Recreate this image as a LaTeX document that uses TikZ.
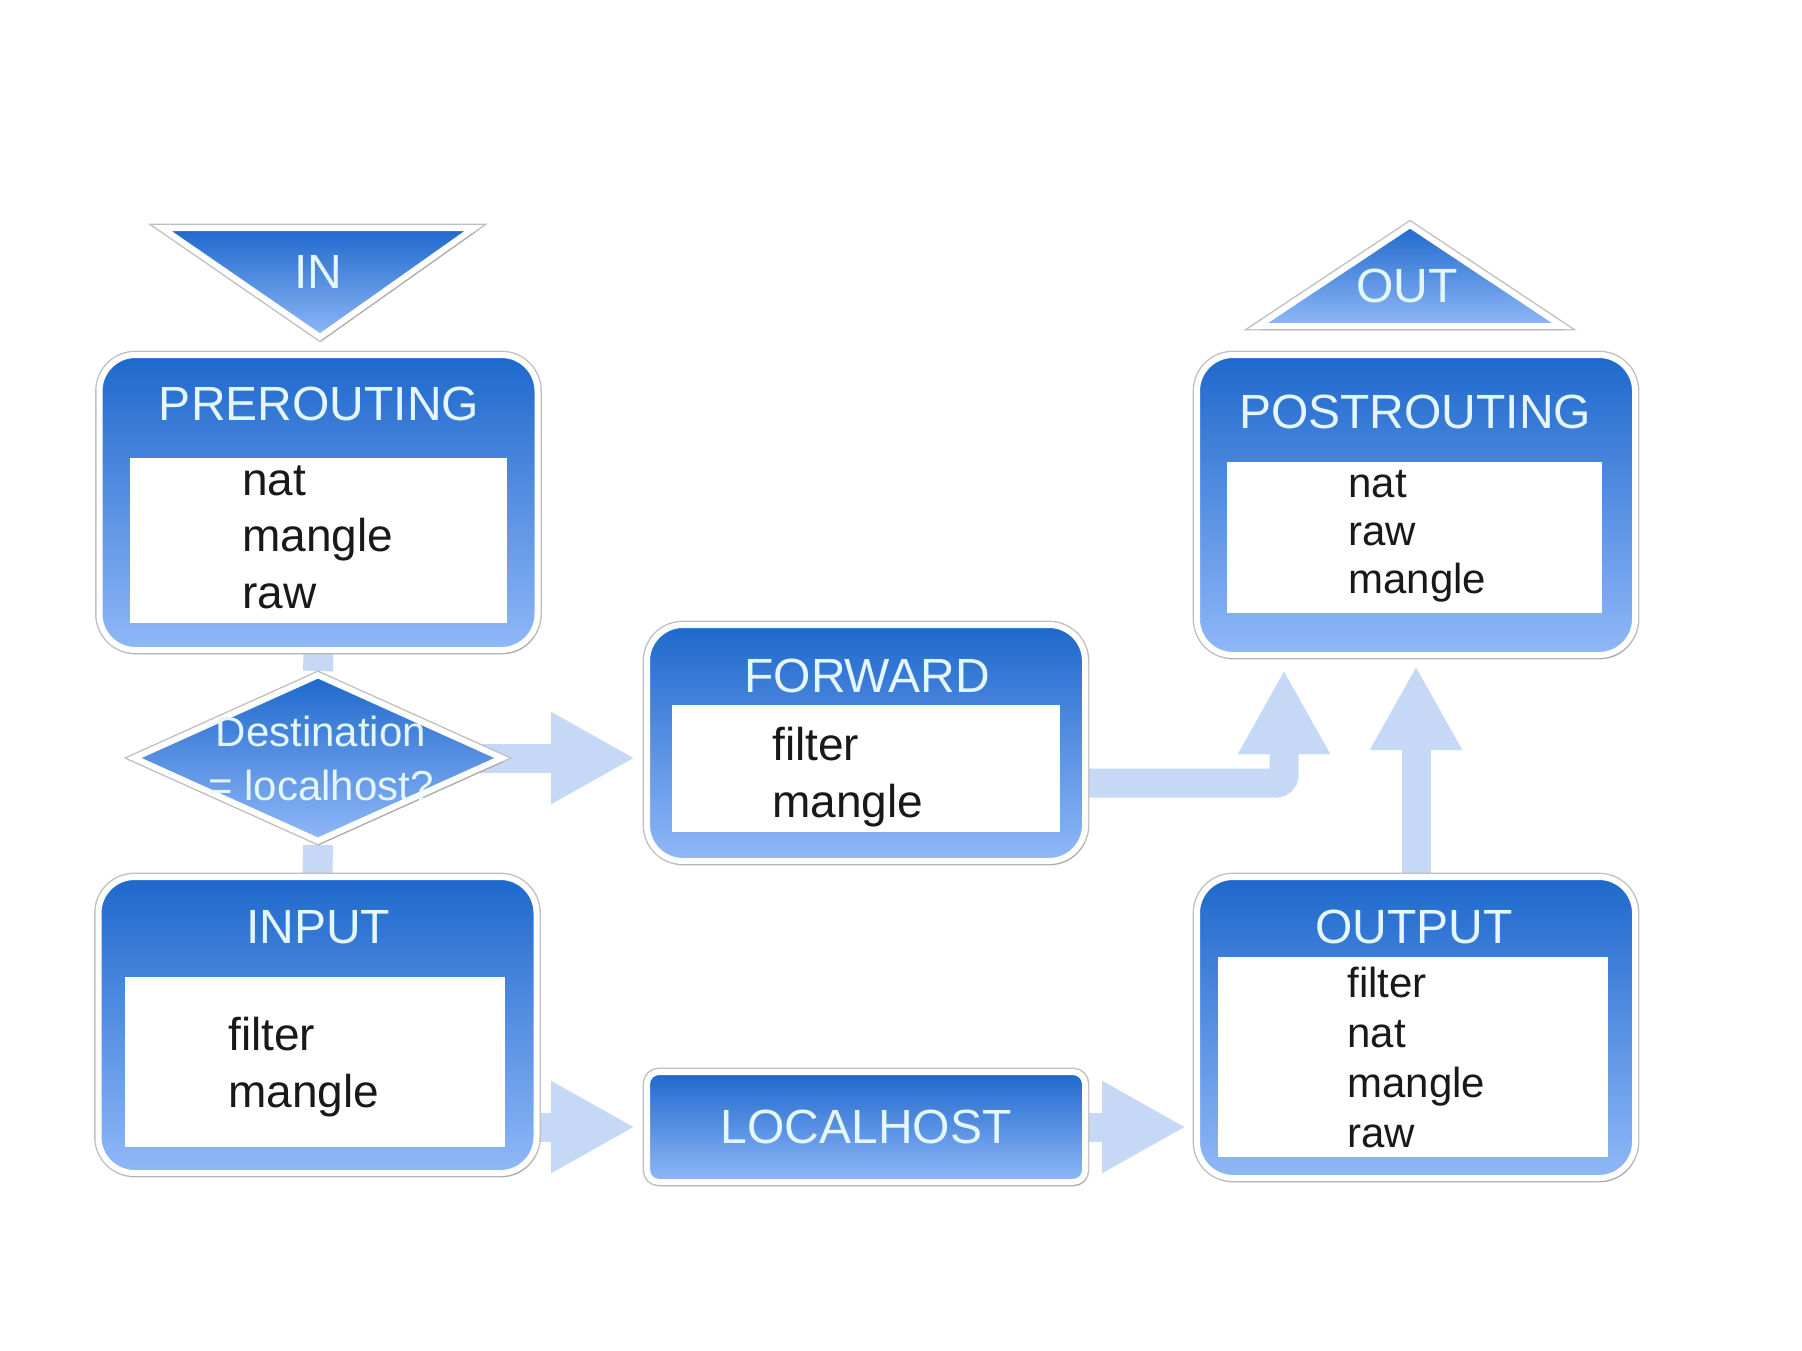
\documentclass[tikz,border=0pt]{standalone}
\usepackage{fontspec}
\setmainfont{Liberation Sans}
\usetikzlibrary{arrows.meta,shapes.geometric,shadows,backgrounds}

\definecolor{boxtop}{HTML}{1E68CC}
\definecolor{boxbot}{HTML}{90B8F8}
\definecolor{titlecol}{HTML}{E4F7FF}
\definecolor{flowcol}{HTML}{C5D8F5}

\begin{document}
\begin{tikzpicture}[x=0.5pt,y=-0.5pt,>={Triangle[length=42pt 0 0,width=43pt 0 0]},line join=miter]
  \tikzstyle{chain}=[rectangle,rounded corners=18pt,draw=white,line width=3pt,top color=boxtop,bottom color=boxbot,minimum width=219pt,inner sep=0pt,preaction={draw=black!25,line width=4.4pt},drop shadow={shadow xshift=1pt,shadow yshift=-2pt,opacity=0.3}]
  \tikzstyle{tri}=[draw=white,line width=3pt,top color=boxtop,bottom color=boxbot,preaction={draw=black!25,line width=4.4pt},drop shadow={shadow xshift=1pt,shadow yshift=-2pt,opacity=0.3}]
  \tikzstyle{tablebox}=[rectangle,fill=white,inner sep=0pt]
  \tikzstyle{chaintitle}=[text=titlecol,font=\fontsize{24}{28}\selectfont,anchor=base,inner sep=0pt]
  \tikzstyle{tableitem}=[text=black!90,font=\fontsize{23}{28}\selectfont,anchor=base west,inner sep=0pt]
  \tikzstyle{small item}=[tableitem,font=\fontsize{21}{25}\selectfont]
  \tikzstyle{flow}=[->,draw=flowcol,line width=14.5pt]

  \useasboundingbox (0,0) rectangle (1802,1350);

  \path[tri] (162,228) -- (474,228) -- (320,337) -- cycle;
  \node[chaintitle] (in) at (318,288) {IN};

  \path[tri] (1410,225) -- (1562,326) -- (1258,326) -- cycle;
  \node[chaintitle] (out) at (1407,302) {OUT};

  \node[chain,minimum height=147.5pt] (prerouting) at (318.5,502.5) {};
  \node[tablebox,minimum width=188.5pt,minimum height=82.5pt] (pretable) at (318.5,540.5) {};
  \node[chaintitle] (pretitle) at (319,420) {PREROUTING};
  \foreach \t [count=\i from 0] in {nat,mangle,raw}
    \node[tableitem] (pre-\t) at (242,{495+56.5*\i}) {\t};

  \node[diamond,draw=white,line width=3pt,top color=boxtop,bottom color=boxbot,minimum width=185pt,minimum height=84pt,inner sep=0pt,preaction={draw=black!25,line width=4.4pt},drop shadow={shadow xshift=1pt,shadow yshift=-2pt,opacity=0.3}] (dest) at (318,758) {};
  \node[chaintitle,font=\fontsize{21}{27}\selectfont,align=center,anchor=center] (desttext) at (321,758) {Destination\\= localhost?};

  \node[chain,minimum height=148pt] (input) at (317.5,1025) {};
  \node[tablebox,minimum width=190pt,minimum height=85pt] (inputtable) at (315,1062) {};
  \node[chaintitle] (inputtitle) at (318,943) {INPUT};
  \foreach \t [count=\i from 0] in {filter,mangle}
    \node[tableitem] (input-\t) at (228,{1050+57*\i}) {\t};

  \node[chain,minimum height=118pt] (forward) at (866,743) {};
  \node[tablebox,minimum width=194pt,minimum height=63.5pt] (forwardtable) at (866,768.5) {};
  \node[chaintitle] (forwardtitle) at (867,692) {FORWARD};
  \foreach \t [count=\i from 0] in {filter,mangle}
    \node[tableitem] (forward-\t) at (772,{760+57*\i}) {\t};

  \node[chain,rounded corners=6pt,minimum height=55pt,text=titlecol,font=\fontsize{24}{28}\selectfont] (localhost) at (866,1127) {LOCALHOST};

  \node[chain,minimum height=150pt] (postrouting) at (1416,505) {};
  \node[tablebox,minimum width=187.5pt,minimum height=75.5pt] (posttable) at (1414.5,537.5) {};
  \node[chaintitle] (posttitle) at (1415,428) {POSTROUTING};
  \foreach \t [count=\i from 0] in {nat,raw,mangle}
    \node[small item] (post-\t) at (1348,{497+48*\i}) {\t};

  \node[chain,minimum height=150.5pt] (output) at (1416,1027.5) {};
  \node[tablebox,minimum width=195pt,minimum height=100pt] (outputtable) at (1413,1057) {};
  \node[chaintitle] (outputtitle) at (1414,943) {OUTPUT};
  \foreach \t [count=\i from 0] in {filter,nat,mangle,raw}
    \node[small item] (output-\t) at (1347,{997+50*\i}) {\t};

  \begin{scope}[on background layer]
    \fill[white] (0,0) rectangle (1802,1350);
    \draw[flowcol,line width=15pt] (prerouting.south) -- (dest.north);
    \draw[flowcol,line width=15pt] (dest.south) -- (input.north);
    \draw[flow,shorten >=4.5pt] ([xshift=-20pt]dest.east) -- (forward.west |- dest.east);
    \draw[flow,rounded corners=4pt,shorten >=6pt] ([yshift=-20pt]forward.east) -| ([xshift=-66pt]postrouting.south);
    \draw[flow,shorten >=4pt] (output.north) -- (postrouting.south);
    \draw[flow,shorten >=4.5pt] (input.east |- localhost.west) -- (localhost.west);
    \draw[flow,shorten >=4pt] (localhost.east) -- (output.west |- localhost.east);
  \end{scope}
\end{tikzpicture}
\end{document}
